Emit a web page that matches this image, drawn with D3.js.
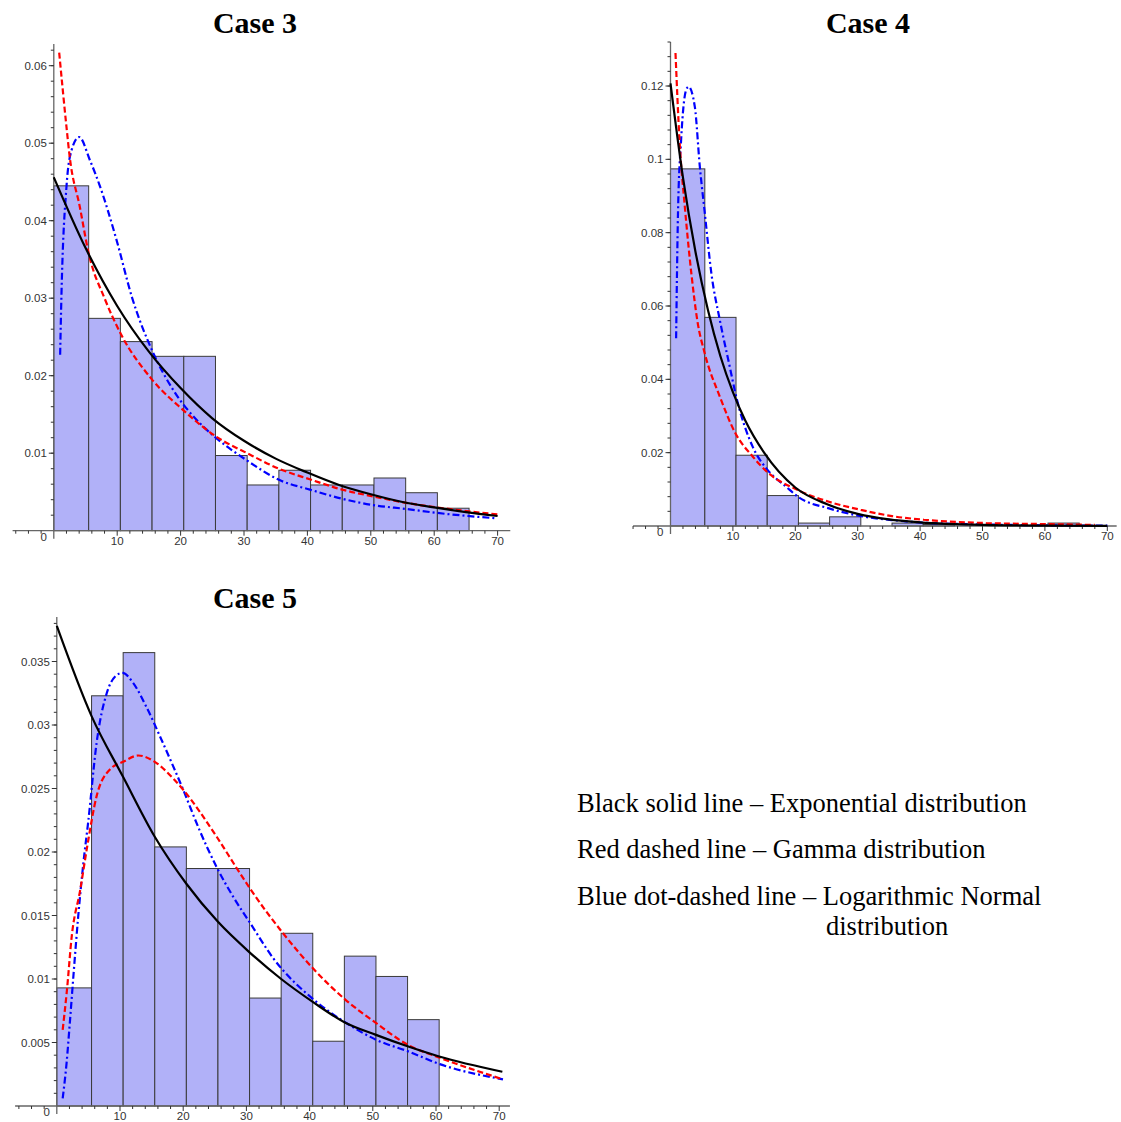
<!DOCTYPE html>
<html>
<head>
<meta charset="utf-8">
<script src="https://cdn.jsdelivr.net/npm/d3@7"></script>
<style>
  body { margin: 0; background: #fff; }
</style>
</head>
<body>
<div id="chart"></div>
<script>
// bin edges shared by the three histograms
var binEdges = [0, 5.5, 10.5, 15.5, 20.5, 25.5, 30.5, 35.5, 40.5, 45.5, 50.5, 55.5, 60.5, 65.5, 70.5];
var xTickValues = [10, 20, 30, 40, 50, 60, 70];

// Case 3
var case3Bars = [0.0445, 0.0274, 0.0244, 0.0225, 0.0225, 0.0097, 0.0059, 0.0078, 0.0059, 0.0059, 0.0068, 0.0049, 0.0029];
var case3YTicks = [0.01, 0.02, 0.03, 0.04, 0.05, 0.06];
var case3Exp = [[0, 0.0456], [5, 0.0365], [10, 0.0290], [15, 0.0231], [20, 0.0184], [25, 0.0145], [30, 0.0116], [35, 0.0093], [40, 0.0075], [45, 0.0059], [50, 0.0047], [55, 0.0037], [60, 0.0030], [65, 0.0024], [70, 0.0019]];
var case3Gamma = [[0.85, 0.0617], [2, 0.0521], [2.5, 0.0483], [4.1, 0.0418], [5.5, 0.0358], [8, 0.0300], [10.5, 0.0255], [15.5, 0.0195], [20.5, 0.0155], [25.5, 0.0122], [30.5, 0.0100], [35.5, 0.0080], [40.5, 0.0066], [45.5, 0.0053], [50.5, 0.0044], [55.5, 0.0036], [60.5, 0.0030], [65.5, 0.0025], [70, 0.0021]];
var case3LogN = [[1.0, 0.0227], [1.2, 0.0302], [2.0, 0.0444], [2.8, 0.0491], [4.0, 0.0508], [5.7, 0.0478], [7.3, 0.0444], [9.9, 0.0375], [12.3, 0.0302], [15.7, 0.0229], [18.8, 0.0182], [23, 0.0139], [25.4, 0.0121], [30.4, 0.0091], [35.7, 0.0065], [40.4, 0.0053], [45.6, 0.0041], [50.4, 0.0033], [55.6, 0.0028], [60.4, 0.0023], [69.8, 0.0016]];

// Case 4
var case4Bars = [0.0974, 0.0569, 0.0193, 0.0083, 0.0008, 0.0025, 0, 0.0008, 0.0004, 0, 0, 0, 0.0008];
var case4YTicks = [0.02, 0.04, 0.06, 0.08, 0.1, 0.12];
var case4Exp = [[0, 0.1207], [2, 0.0950], [4, 0.0748], [6, 0.0589], [8, 0.0463], [10, 0.0365], [12, 0.0287], [15, 0.0200], [20, 0.0105], [25, 0.0060], [30, 0.0033], [35, 0.0018], [40, 0.0010], [50, 0.0003], [60, 0.0001], [70, 0.00003]];
var case4Gamma = [[0.8, 0.129], [1.45, 0.105], [2.3, 0.087], [3.4, 0.068], [4.3, 0.056], [5.5, 0.047], [7.9, 0.0353], [10.4, 0.0253], [13.2, 0.0189], [15.45, 0.0148], [20.4, 0.0098], [25.4, 0.0066], [30.5, 0.0044], [35.5, 0.0027], [40.6, 0.0017], [50.6, 0.0008], [61, 0.0005], [68, 0.0003]];
var case4LogN = [[0.9, 0.0512], [1.2, 0.0853], [1.7, 0.1053], [2.5, 0.1189], [2.9, 0.1198], [3.9, 0.1143], [4.7, 0.098], [5.5, 0.0853], [6.55, 0.0689], [7.9, 0.0562], [9.5, 0.0434], [10.4, 0.0362], [13.2, 0.0215], [15.45, 0.0155], [18.55, 0.0107], [20.4, 0.0080], [25.4, 0.0048], [30.5, 0.0027], [35.5, 0.0016], [40.6, 0.0009], [48, 0.0005], [60, 0.0002], [70, 0.0001]];

// Case 5
var case5Bars = [0.0093, 0.0323, 0.0357, 0.0204, 0.0187, 0.0187, 0.0085, 0.0136, 0.0051, 0.0118, 0.0102, 0.0068];
var case5YTicks = [0.005, 0.01, 0.015, 0.02, 0.025, 0.03, 0.035];
var case5Exp = [[0, 0.0378], [5.5, 0.0307], [10.5, 0.0259], [15.5, 0.0212], [20.5, 0.0175], [25.5, 0.0145], [30.5, 0.0121], [35.5, 0.0100], [40.5, 0.0082], [45.5, 0.0066], [50.5, 0.0056], [55.5, 0.0047], [60.5, 0.0039], [70.5, 0.0027]];
var case5Gamma = [[0.93, 0.0060], [1.6, 0.0091], [2.35, 0.0133], [3.7, 0.0170], [4.8, 0.0204], [6.3, 0.0244], [8.4, 0.0265], [10.5, 0.0271], [12.9, 0.0276], [15.5, 0.0271], [18.4, 0.0258], [20, 0.0249], [25.3, 0.0212], [28.5, 0.0187], [30.6, 0.0171], [35.8, 0.0136], [40.6, 0.0108], [45.6, 0.0084], [50.6, 0.0065], [55.6, 0.0048], [60.6, 0.0038], [70.6, 0.0021]];
var case5LogN = [[0.93, 0.0006], [1.55, 0.0034], [2.1, 0.0068], [2.7, 0.0107], [3.4, 0.0150], [4.2, 0.0191], [5.0, 0.0225], [6.3, 0.0286], [7.9, 0.0325], [9.2, 0.0338], [10.4, 0.0341], [12.1, 0.0333], [14.2, 0.0314], [16.6, 0.0288], [20, 0.0249], [22.6, 0.0217], [25.3, 0.0188], [28, 0.0164], [30.6, 0.0144], [34.3, 0.0116], [40.6, 0.0084], [45.6, 0.0066], [50.6, 0.0052], [55.6, 0.0043], [60.6, 0.0033], [70.6, 0.0021]];

var legendLines = [
    "Black solid line \u2013 Exponential distribution",
    "Red dashed line \u2013 Gamma distribution",
    "Blue dot-dashed line \u2013 Logarithmic Normal",
    "distribution"
];

var svg = d3.select("#chart")
    .append("svg")
    .attr("width", 1121)
    .attr("height", 1122);

// panel layout (pixel frame of each plot)
var panels = [
    { title: "Case 3", tx: 255, ty: 33, ox: 53.8, ppu: 6.34, oy: 530.7, yTop: 0.0628, yMinor: 0.002, xMin: -6.5, xMax: 72,
      bars: case3Bars, yTicks: case3YTicks, exp: case3Exp, gamma: case3Gamma, logn: case3LogN },
    { title: "Case 4", tx: 868, ty: 33, ox: 670.5, ppu: 6.24, oy: 526, yTop: 0.132, yMinor: 0.004, xMin: -6, xMax: 71.5,
      bars: case4Bars, yTicks: case4YTicks, exp: case4Exp, gamma: case4Gamma, logn: case4LogN },
    { title: "Case 5", tx: 255, ty: 608, ox: 56.8, ppu: 6.32, oy: 1106, yTop: 0.0385, yMinor: 0.001, xMin: -6.6, xMax: 71.7,
      bars: case5Bars, yTicks: case5YTicks, exp: case5Exp, gamma: case5Gamma, logn: case5LogN }
];
var yPx = [465, 440, 444.5]; // pixel height of the top labelled y tick

panels.forEach(function (p, k) {
    var g = svg.append("g");
    var yMax = p.yTicks[p.yTicks.length - 1];
    var x = d3.scaleLinear().domain([0, 70]).range([p.ox, p.ox + 70 * p.ppu]);
    var y = d3.scaleLinear().domain([0, yMax]).range([p.oy, p.oy - yPx[k]]);

    // bars
    g.selectAll("rect.bar")
        .data(p.bars)
        .enter().append("rect")
        .attr("class", "bar")
        .attr("x", function (d, i) { return x(binEdges[i]); })
        .attr("width", function (d, i) { return x(binEdges[i + 1]) - x(binEdges[i]); })
        .attr("y", function (d) { return y(d); })
        .attr("height", function (d) { return y(0) - y(d); })
        .attr("fill", "#b1b1f8")
        .attr("stroke", "#3a3a3a")
        .attr("stroke-width", 1);

    // axes
    var axisCol = "#666";
    g.append("line")
        .attr("x1", x(p.xMin)).attr("x2", x(p.xMax))
        .attr("y1", y(0)).attr("y2", y(0))
        .attr("stroke", axisCol).attr("stroke-width", 1.3);
    g.append("line")
        .attr("x1", x(0)).attr("x2", x(0))
        .attr("y1", y(0) + 8).attr("y2", y(p.yTop))
        .attr("stroke", axisCol).attr("stroke-width", 1.3);

    // x ticks every 2, labelled every 10
    var xt = d3.range(Math.ceil(p.xMin / 2) * 2, p.xMax, 2).filter(function (v) { return v != 0; });
    g.selectAll("line.xt")
        .data(xt)
        .enter().append("line")
        .attr("x1", function (d) { return x(d); })
        .attr("x2", function (d) { return x(d); })
        .attr("y1", y(0))
        .attr("y2", function (d) { return y(0) + (d % 10 == 0 ? 5 : 3); })
        .attr("stroke", "#333").attr("stroke-width", 1);
    g.selectAll("text.xl")
        .data(xTickValues)
        .enter().append("text")
        .attr("x", function (d) { return x(d); })
        .attr("y", y(0) + 14)
        .attr("text-anchor", "middle")
        .attr("font-family", "Liberation Sans, Arial, sans-serif")
        .attr("font-size", "11.5px")
        .attr("fill", "#333")
        .text(function (d) { return d; });
    g.append("text")
        .attr("x", x(0) - 7)
        .attr("y", y(0) + 10)
        .attr("text-anchor", "end")
        .attr("font-family", "Liberation Sans, Arial, sans-serif")
        .attr("font-size", "11.5px")
        .attr("fill", "#333")
        .text("0");

    // y ticks
    var nMinor = Math.floor(p.yTop / p.yMinor + 1e-6);
    var yt = d3.range(1, nMinor + 1).map(function (i) { return i * p.yMinor; });
    g.selectAll("line.yt")
        .data(yt)
        .enter().append("line")
        .attr("x1", x(0) - 3)
        .attr("x2", x(0))
        .attr("y1", function (d) { return y(d); })
        .attr("y2", function (d) { return y(d); })
        .attr("stroke", "#333").attr("stroke-width", 1);
    g.selectAll("line.ym")
        .data(p.yTicks)
        .enter().append("line")
        .attr("x1", x(0) - 5)
        .attr("x2", x(0))
        .attr("y1", function (d) { return y(d); })
        .attr("y2", function (d) { return y(d); })
        .attr("stroke", "#333").attr("stroke-width", 1);
    g.selectAll("text.yl")
        .data(p.yTicks)
        .enter().append("text")
        .attr("x", x(0) - 7)
        .attr("y", function (d) { return y(d); })
        .attr("dy", "0.35em")
        .attr("text-anchor", "end")
        .attr("font-family", "Liberation Sans, Arial, sans-serif")
        .attr("font-size", "11.5px")
        .attr("fill", "#333")
        .text(function (d) { return String(+d.toFixed(3)); });

    // fitted curves
    var line = d3.line()
        .x(function (d) { return x(d[0]); })
        .y(function (d) { return y(d[1]); })
        .curve(d3.curveMonotoneX);
    g.append("path").datum(p.logn)
        .attr("d", line).attr("fill", "none")
        .attr("stroke", "#0000ff").attr("stroke-width", 2.2)
        .attr("stroke-dasharray", "7,3,2,3");
    g.append("path").datum(p.gamma)
        .attr("d", line).attr("fill", "none")
        .attr("stroke", "#ff0000").attr("stroke-width", 2.2)
        .attr("stroke-dasharray", "6,3");
    g.append("path").datum(p.exp)
        .attr("d", line).attr("fill", "none")
        .attr("stroke", "#000").attr("stroke-width", 2.2);

    // title
    svg.append("text")
        .attr("x", p.tx)
        .attr("y", p.ty)
        .attr("text-anchor", "middle")
        .attr("font-family", "Liberation Serif, Times New Roman, serif")
        .attr("font-weight", "bold")
        .attr("font-size", "30px")
        .attr("fill", "#000")
        .text(p.title);
});

// legend text
var legendPos = [[577, 812], [577, 858], [577, 905], [826, 935]];
svg.selectAll("text.legend")
    .data(legendLines)
    .enter().append("text")
    .attr("class", "legend")
    .attr("x", function (d, i) { return legendPos[i][0]; })
    .attr("y", function (d, i) { return legendPos[i][1]; })
    .attr("font-family", "Liberation Serif, Times New Roman, serif")
    .attr("font-size", "26.5px")
    .attr("fill", "#000")
    .text(function (d) { return d; });
</script>
</body>
</html>
